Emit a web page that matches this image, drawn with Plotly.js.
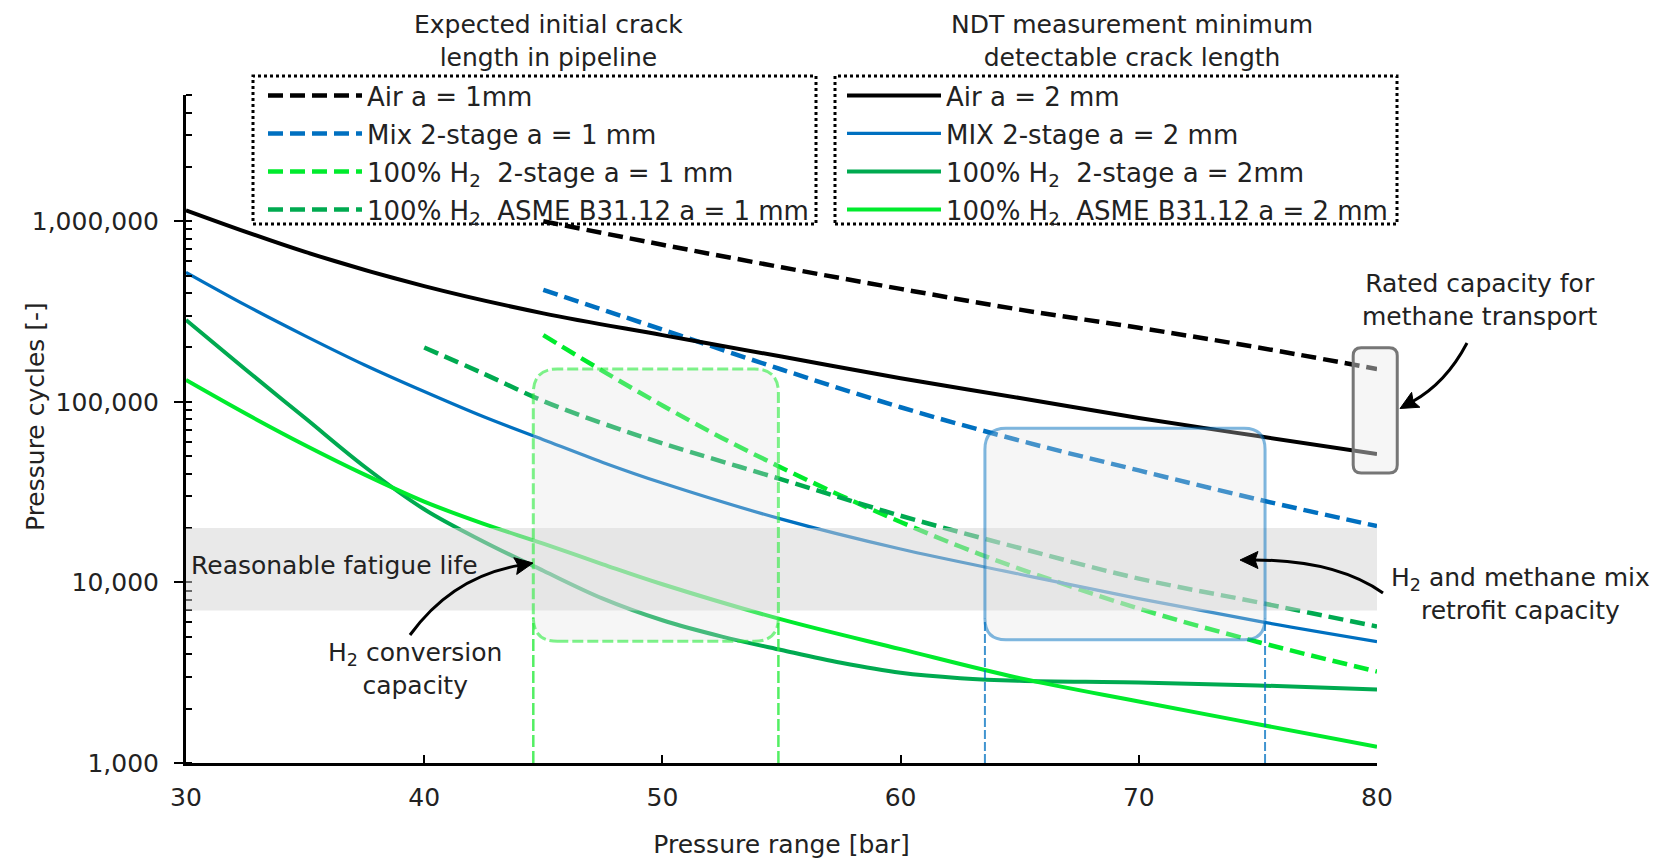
<!DOCTYPE html>
<html>
<head>
<meta charset="utf-8">
<script src="https://cdn.plot.ly/plotly-3.0.1.min.js"></script>
<style>
  html, body { margin: 0; padding: 0; background: #ffffff; }
  #chart { width: 1667px; height: 861px; }
</style>
</head>
<body>
<div id="chart"></div>
<script>
// ---------------- data ----------------
// a = 2 mm (NDT minimum detectable crack length) -> solid lines
const airA2_x = [30, 35, 40, 45, 50, 55, 60, 65, 70, 75, 80];
const airA2_y = [1150000, 676000, 437000, 309000, 234000, 178000, 135000, 105000, 81300, 64600, 51400];

const mixA2_x = [30, 32.5, 35, 37.5, 40, 42.5, 45, 47.5, 50, 55, 60, 65, 70, 75, 80];
const mixA2_y = [521000, 343000, 232000, 160000, 114000, 82600, 61700, 46200, 35500, 22400, 15300, 11100, 8130, 6100, 4700];

const h2StageA2_x = [30, 32.5, 35, 37.5, 40, 42.5, 45, 47.5, 50, 52.5, 55, 57.5, 60, 62.5, 65, 70, 75, 80];
const h2StageA2_y = [284000, 151000, 81300, 43700, 25400, 16800, 11600, 8130, 6170, 5010, 4220, 3590, 3160, 2950, 2850, 2790, 2690, 2550];

const h2AsmeA2_x = [30, 32.5, 35, 37.5, 40, 42.5, 45, 47.5, 50, 55, 60, 65, 70, 75, 80];
const h2AsmeA2_y = [132000, 86100, 57500, 39500, 28000, 21100, 16400, 12600, 9770, 6240, 4270, 2950, 2190, 1640, 1230];

// a = 1 mm (expected initial crack length) -> dashed lines
const airA1_x = [45, 50, 55, 60, 65, 70, 75, 80];
const airA1_y = [1000000, 741000, 556000, 422000, 324000, 257000, 200000, 152000];

const mixA1_x = [45, 50, 55, 60, 65, 70, 75, 80];
const mixA1_y = [417000, 251000, 151000, 93300, 61000, 41700, 28800, 20500];

const h2StageA1_x = [45, 47.5, 50, 52.5, 55, 57.5, 60, 62.5, 65, 70, 75, 80];
const h2StageA1_y = [234000, 148000, 95500, 63100, 43200, 30200, 21600, 15800, 11900, 7160, 4680, 3210];

const h2AsmeA1_x = [40, 42.5, 45, 47.5, 50, 55, 60, 65, 70, 75, 80];
const h2AsmeA1_y = [200000, 143000, 101000, 75900, 58900, 37200, 23400, 15500, 10500, 7760, 5700];

// legend labels
const namesA1 = ['Air a = 1mm', 'Mix 2-stage a = 1 mm',
  '100% H<sub>2</sub>\u00a0 2-stage a = 1 mm', '100% H<sub>2</sub>\u00a0 ASME B31.12 a = 1 mm'];
const namesA2 = ['Air a = 2 mm', 'MIX 2-stage a = 2 mm',
  '100% H<sub>2</sub>\u00a0 2-stage a = 2mm', '100% H<sub>2</sub>\u00a0 ASME B31.12 a = 2 mm'];

// highlighted regions (data units)
const fatigueBand = [7000, 20000];          // reasonable fatigue life (cycles)
const h2Box_x = [44.58, 54.87];            // H2 conversion capacity (bar)
const h2Box_y = [4720, 152000];
const mixBox_x = [63.54, 75.30];           // H2 / methane mix retrofit capacity (bar)
const mixBox_y = [4820, 71500];
const ratedBox_x = [79.0, 80.85];          // rated capacity for methane transport (bar)
const ratedBox_y = [40400, 199000];

// tick values
const xTicks = [30, 40, 50, 60, 70, 80];
const yRangeCycles = [1000, 5000000];

// ---------------- styling / layout ----------------
const FONT = 'DejaVu Sans, Verdana, sans-serif';
const TXT = '#222222';
const C_BLACK = '#000000', C_BLUE = '#0070C0', C_DKGREEN = '#00AA50', C_LTGREEN = '#00EB2D';
const W = 1667, H = 861;
const M = { l: 186, r: 290, t: 95, b: 98 };
const PW = W - M.l - M.r, PH = H - M.t - M.b;
const xRange = [xTicks[0], xTicks[xTicks.length - 1]];
const yRangeLog = yRangeCycles.map(Math.log10);
const pxPerDecade = PH / (yRangeLog[1] - yRangeLog[0]);
const barPerPx = (xRange[1] - xRange[0]) / PW;
const pX = px => (px - M.l) / PW;          // pixel -> paper
const pY = py => (H - M.b - py) / PH;
const dataToPaperX = v => (v - xRange[0]) / (xRange[1] - xRange[0]);

function roundedRect(x0, x1, y0, y1, rPx, xPerPx) {
  const rx = rPx * xPerPx;
  const f = Math.pow(10, rPx / pxPerDecade);
  const y0r = y0 * f, y1r = y1 / f;
  return `M${x0 + rx},${y0} L${x1 - rx},${y0} Q${x1},${y0} ${x1},${y0r} L${x1},${y1r} ` +
         `Q${x1},${y1} ${x1 - rx},${y1} L${x0 + rx},${y1} Q${x0},${y1} ${x0},${y1r} ` +
         `L${x0},${y0r} Q${x0},${y0} ${x0 + rx},${y0} Z`;
}

// curved arrow: body (quadratic curve, pixel coords -> paper) + filled head
function curvedArrow(tail, ctrl, tip) {
  const dx = tip[0] - ctrl[0], dy = tip[1] - ctrl[1];
  const len = Math.hypot(dx, dy), ux = dx / len, uy = dy / len;
  const L = 18, HW = 8.5, NOTCH = 3;
  const bx = tip[0] - ux * L, by = tip[1] - uy * L;
  const nx = -uy, ny = ux;
  const end = [tip[0] - ux * (L - NOTCH - 1), tip[1] - uy * (L - NOTCH - 1)];
  const body = {
    type: 'path', xref: 'paper', yref: 'paper',
    path: `M${pX(tail[0])},${pY(tail[1])} Q${pX(ctrl[0])},${pY(ctrl[1])} ${pX(end[0])},${pY(end[1])}`,
    line: { color: '#000', width: 3 }, fillcolor: 'rgba(0,0,0,0)'
  };
  const headShape = {
    type: 'path', xref: 'paper', yref: 'paper',
    path: `M${pX(tip[0])},${pY(tip[1])} L${pX(bx + nx * HW)},${pY(by + ny * HW)} ` +
          `L${pX(bx + ux * NOTCH)},${pY(by + uy * NOTCH)} L${pX(bx - nx * HW)},${pY(by - ny * HW)} Z`,
    line: { color: '#000', width: 1 }, fillcolor: '#000'
  };
  return [body, headShape];
}

const DASH = '15px,7px';
function tr(x, y, name, color, width, dash, legend, group) {
  return {
    type: 'scatter', mode: 'lines', x: x, y: y, name: name, legend: legend, legendgroup: group,
    line: { color: color, width: width, dash: dash, shape: 'spline', smoothing: 1 },
    hoverinfo: 'x+y+name'
  };
}

const traces = [
  tr(airA1_x, airA1_y, namesA1[0], C_BLACK, 4.5, DASH, 'legend', 'g1'),
  tr(mixA1_x, mixA1_y, namesA1[1], C_BLUE, 4.5, DASH, 'legend', 'g2'),
  tr(h2StageA1_x, h2StageA1_y, namesA1[2], C_LTGREEN, 4.5, DASH, 'legend', 'g3'),
  tr(h2AsmeA1_x, h2AsmeA1_y, namesA1[3], C_DKGREEN, 4.5, DASH, 'legend', 'g4'),
  tr(airA2_x, airA2_y, namesA2[0], C_BLACK, 4, 'solid', 'legend2', 'g5'),
  tr(mixA2_x, mixA2_y, namesA2[1], C_BLUE, 3.2, 'solid', 'legend2', 'g6'),
  tr(h2StageA2_x, h2StageA2_y, namesA2[2], C_DKGREEN, 4, 'solid', 'legend2', 'g7'),
  tr(h2AsmeA2_x, h2AsmeA2_y, namesA2[3], C_LTGREEN, 4, 'solid', 'legend2', 'g8')
];

const R_BOX = 24, R_MIX = 21;
const shapes = [
  // reasonable fatigue life band
  { type: 'rect', xref: 'paper', yref: 'y', x0: 0, x1: 1, y0: fatigueBand[0], y1: fatigueBand[1],
    fillcolor: 'rgba(212,212,212,0.5)', line: { width: 0 }, layer: 'above' },
  // H2 conversion box
  { type: 'path', xref: 'x', yref: 'y', layer: 'above',
    path: roundedRect(h2Box_x[0], h2Box_x[1], h2Box_y[0], h2Box_y[1], R_BOX, barPerPx),
    fillcolor: 'rgba(225,225,225,0.3)', line: { color: 'rgba(40,235,60,0.6)', width: 3, dash: '11px,4px' } },
  { type: 'line', xref: 'x', yref: 'y', layer: 'above', x0: h2Box_x[0], x1: h2Box_x[0],
    y0: yRangeCycles[0], y1: h2Box_y[0] * Math.pow(10, R_BOX / pxPerDecade),
    line: { color: 'rgba(40,235,60,0.8)', width: 2.5, dash: '12px,4px' } },
  { type: 'line', xref: 'x', yref: 'y', layer: 'above', x0: h2Box_x[1], x1: h2Box_x[1],
    y0: yRangeCycles[0], y1: h2Box_y[0] * Math.pow(10, R_BOX / pxPerDecade),
    line: { color: 'rgba(40,235,60,0.8)', width: 2.5, dash: '12px,4px' } },
  // mix retrofit box
  { type: 'path', xref: 'x', yref: 'y', layer: 'above',
    path: roundedRect(mixBox_x[0], mixBox_x[1], mixBox_y[0], mixBox_y[1], R_MIX, barPerPx),
    fillcolor: 'rgba(225,225,225,0.3)', line: { color: 'rgba(0,112,192,0.5)', width: 3 } },
  { type: 'line', xref: 'x', yref: 'y', layer: 'above', x0: mixBox_x[0], x1: mixBox_x[0],
    y0: yRangeCycles[0], y1: mixBox_y[0] * Math.pow(10, R_MIX / pxPerDecade),
    line: { color: 'rgba(0,112,192,0.75)', width: 2, dash: '9px,3px' } },
  { type: 'line', xref: 'x', yref: 'y', layer: 'above', x0: mixBox_x[1], x1: mixBox_x[1],
    y0: yRangeCycles[0], y1: mixBox_y[0] * Math.pow(10, R_MIX / pxPerDecade),
    line: { color: 'rgba(0,112,192,0.75)', width: 2, dash: '9px,3px' } },
  // rated capacity box
  { type: 'path', xref: 'paper', yref: 'y', layer: 'above',
    path: roundedRect(dataToPaperX(ratedBox_x[0]), dataToPaperX(ratedBox_x[1]), ratedBox_y[0], ratedBox_y[1], 8, 1 / PW),
    fillcolor: 'rgba(235,235,235,0.45)', line: { color: 'rgb(118,118,118)', width: 3 } },
  // legend frames (dotted)
  { type: 'rect', xref: 'paper', yref: 'paper', x0: pX(253), x1: pX(816), y0: pY(224), y1: pY(76),
    line: { color: '#000', width: 3, dash: 'dot' }, fillcolor: 'rgba(0,0,0,0)' },
  { type: 'rect', xref: 'paper', yref: 'paper', x0: pX(835), x1: pX(1397), y0: pY(224), y1: pY(76),
    line: { color: '#000', width: 3, dash: 'dot' }, fillcolor: 'rgba(0,0,0,0)' }
].concat(
  curvedArrow([410, 635], [452, 577], [533, 563]),
  curvedArrow([1383, 593], [1336, 560], [1240, 560]),
  curvedArrow([1467, 343], [1446, 383], [1400, 408.5])
);

const txt = (text, x, y, extra) => Object.assign({
  text: text, xref: 'paper', yref: 'paper', x: x, y: y, showarrow: false,
  xanchor: 'center', yanchor: 'middle', font: { family: FONT, size: 25, color: TXT }
}, extra || {});

const annotations = [
  txt('Expected initial crack<br>length in pipeline', pX(548), pY(41)),
  txt('NDT measurement minimum<br>detectable crack length', pX(1132), pY(41)),
  txt('Rated capacity for<br>methane transport', pX(1480), pY(299.5)),
  txt('H<sub>2</sub> and methane mix<br>retrofit capacity', pX(1520), pY(593.5)),
  txt('H<sub>2</sub> conversion<br>capacity', pX(415), pY(668.5)),
  txt('Reasonable fatigue life', pX(189), pY(565), { xanchor: 'left' }),
  txt('Pressure cycles [-]', pX(35), pY(417), { textangle: -90 })
];

const legendCommon = {
  xref: 'paper', yref: 'paper', xanchor: 'left', yanchor: 'top',
  bgcolor: 'rgba(0,0,0,0)', borderwidth: 0, itemwidth: 94,
  traceorder: 'grouped', tracegroupgap: 1.2,
  font: { family: FONT, size: 26, color: TXT }, itemclick: false, itemdoubleclick: false
};

const layout = {
  width: W, height: H,
  margin: M,
  paper_bgcolor: '#ffffff', plot_bgcolor: '#ffffff',
  font: { family: FONT, size: 25, color: TXT },
  showlegend: true,
  legend: Object.assign({ x: pX(263), y: pY(72) }, legendCommon),
  legend2: Object.assign({ x: pX(842), y: pY(72) }, legendCommon),
  xaxis: {
    range: xRange, tickvals: xTicks, ticks: 'inside', ticklen: 8, tickwidth: 2, tickcolor: '#000',
    showline: true, linewidth: 3, linecolor: '#000', showgrid: false, zeroline: false,
    tickfont: { family: FONT, size: 25, color: TXT }, ticklabelstandoff: 10,
    title: { text: 'Pressure range [bar]', font: { family: FONT, size: 25, color: TXT }, standoff: 25 },
    automargin: false
  },
  yaxis: {
    type: 'log', range: yRangeLog, dtick: 1, tickformat: ',d',
    ticks: 'outside', ticklen: 9, tickwidth: 2, tickcolor: '#000',
    minor: { ticks: 'inside', ticklen: 6, tickwidth: 2, tickcolor: '#000', dtick: 'D1', showgrid: false },
    showline: true, linewidth: 3, linecolor: '#000', showgrid: false, zeroline: false,
    tickfont: { family: FONT, size: 25, color: TXT }, ticklabelstandoff: 10,
    automargin: false
  },
  shapes: shapes,
  annotations: annotations
};

Plotly.newPlot('chart', traces, layout, { displayModeBar: false, responsive: false });
</script>
</body>
</html>
